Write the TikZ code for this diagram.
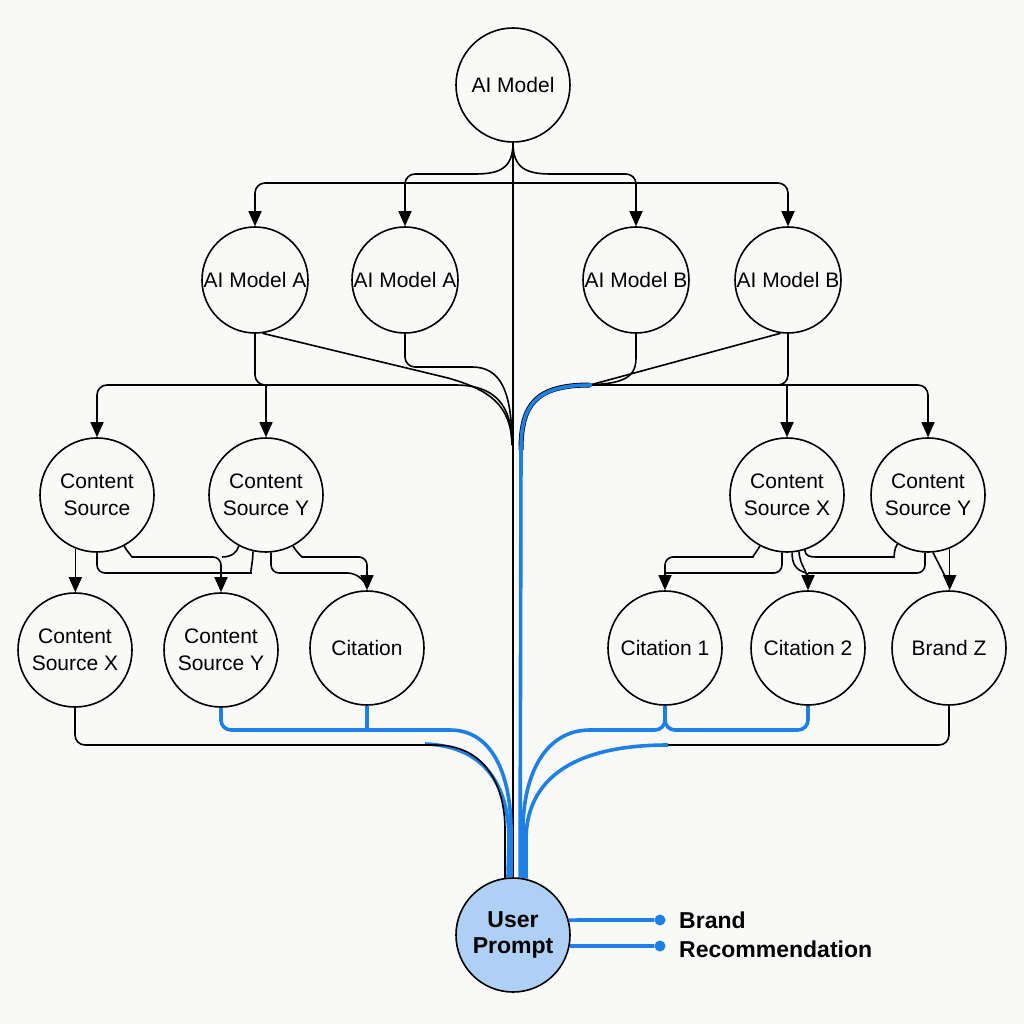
\documentclass[tikz,border=0pt]{standalone}
\usepackage{fontspec}
\setmainfont{Liberation Sans}
\usetikzlibrary{arrows.meta,calc}
\pgfdeclarelayer{bgl}
\pgfdeclarelayer{edges}
\pgfsetlayers{bgl,edges,main}
\definecolor{myblue}{HTML}{1E80E6}
\definecolor{ufill}{HTML}{AED0F4}
\definecolor{paper}{HTML}{F9FAF8}
\begin{document}
\begin{tikzpicture}[x=1pt,y=-1pt,
  circ/.style={circle, draw=black, line width=1.6pt, fill=paper, minimum size=114pt,
    inner sep=0pt, align=center, font=\fontsize{21}{27}\selectfont},
  small/.style={minimum size=106pt},
  ln/.style={line width=1.6pt, draw=black},
  arr/.style={ln, -{Triangle[length=15pt,width=13pt]}},
  bl/.style={line width=3.6pt, draw=myblue},
  dot/.style={circle, fill=myblue, minimum size=11pt, inner sep=0pt},
  lbl/.style={font=\bfseries\fontsize{23}{27}\selectfont, inner sep=0pt}
]
\begin{pgfonlayer}{bgl}
\fill[paper] (0,0) rectangle (1024,1024);
\end{pgfonlayer}

% nodes
\node[circ] (top) at (513,85) {AI Model};
\node[circ,small] (a1) at (255,280) {AI Model A};
\node[circ,small] (a2) at (405,280) {AI Model A};
\node[circ,small] (b1) at (636,280) {AI Model B};
\node[circ,small] (b2) at (788,280) {AI Model B};
\node[circ] (cs1) at (97,495) {Content\\Source};
\node[circ] (cs2) at (266,495) {Content\\Source Y};
\node[circ] (cs3) at (787,495) {Content\\Source X};
\node[circ] (cs4) at (928,495) {Content\\Source Y};
\node[circ] (c31) at (75,650) {Content\\Source X};
\node[circ] (c32) at (221,650) {Content\\Source Y};
\node[circ] (c33) at (367,648) {Citation};
\node[circ] (c34) at (665,648) {Citation 1};
\node[circ] (c35) at (808,648) {Citation 2};
\node[circ] (c36) at (949,648) {Brand Z};
\node[circ, fill=ufill, font=\bfseries\fontsize{23}{26}\selectfont] (user) at (513,935) {User\\Prompt};

\node[dot] (d1) at (660,920) {};
\node[dot] (d2) at (660,946) {};
\node[lbl, anchor=base west] (t1) at (679,928) {Brand};
\node[lbl, anchor=base west] (t2) at (679,957) {Recommendation};

\begin{pgfonlayer}{edges}
% top level
\draw[ln] (top.south) -- (user.north);
\draw[arr, rounded corners=10pt] (top.south) .. controls (513,168) and (500,174) .. (465,174) -- (405,174) -- (a2.north);
\draw[arr, rounded corners=10pt] (top.south) .. controls (513,168) and (526,174) .. (561,174) -- (636,174) -- (b1.north);
\draw[arr, rounded corners=10pt] (513,183) -| (a1.north);
\draw[arr, rounded corners=10pt] (513,183) -| (b2.north);

% level 1 -> level 2, left
\draw[ln, rounded corners=10pt] (a1.south) -- (255,385) -- (445,385) .. controls (495,385) and (512,405) .. (512,445);
\draw[arr, rounded corners=10pt] (300,385) -| (cs1.north);
\draw[arr] (266,385) -- (cs2.north);
\draw[ln] (a1.-82) -- (448,378) .. controls (490,390) and (511,405) .. (512,445);
\draw[ln, rounded corners=10pt] (a2.south) -- (405,367) -- (462,367) .. controls (500,367) and (512,390) .. (512,445);

% level 1 -> level 2, right
\draw[ln] (b1.south) -- (636,358) .. controls (636,380) and (620,385) .. (575,385);
\draw[ln] (b2.-98) -- (590,385);
\draw[ln, rounded corners=10pt] (b2.south) -- (788,385) -- (580,385);
\draw[arr, rounded corners=10pt] (760,385) -| (cs4.north);
\draw[arr] (787,385) -- (cs3.north);
\draw[ln, line width=5pt] (590,385) .. controls (535,385) and (521,405) .. (521,450);
\draw[bl] (592,385) .. controls (535,385) and (521,405) .. (521,450) -- (user.83);

% level 2 -> level 3, left
\draw[arr] (cs1.-112) -- (cs1.-112 |- c31.north);
\draw[ln, rounded corners=8pt] (cs1.south) -- (97,573) -- (243,573) .. controls (250,573) and (253,562) .. (cs2.-103);
\draw[arr, rounded corners=8pt] (cs1.-62) to[out=-60,in=180] (140,557) -- (221,557) -- (c32.north);
\draw[ln] (cs2.-118) .. controls (237,552) and (232,557) .. (222,557);
\draw[arr, rounded corners=8pt] (cs2.-62) to[out=-60,in=180] (310,557) -- (367,557) -- (c33.north);
\draw[ln, rounded corners=8pt] (cs2.-85) -- (271,573) -- (356,573) -- (367,585);

% level 2 -> level 3, right
\draw[arr, rounded corners=8pt] (cs3.-118) to[out=-120,in=0] (745,557) -- (665,557) -- (c34.north);
\draw[ln, rounded corners=8pt] (cs3.-95) |- (665,573);
\draw[arr] (cs3.-85) .. controls (792,575) and (808,570) .. (c35.north);
\draw[ln] (cs3.-78) .. controls (800,568) and (808,568) .. (808,585);
\draw[ln, rounded corners=6pt] (cs3.-72) .. controls (805,556) and (810,557) .. (822,557) -- (888,557) to[out=0,in=-125] (cs4.-122);
\draw[ln, rounded corners=8pt] (cs4.-93) |- (808,573);
\draw[arr] (cs4.-68) -- (cs4.-68 |- c36.north);
\draw[ln] (cs4.-85) -- (948,582);

% level 3 -> user, left
\draw[bl] (425,744) .. controls (488,746) and (509,790) .. (509,840) -- (user.95);
\draw[ln, rounded corners=10pt] (c31.south) -- (75,745) -- (425,745) .. controls (485,745) and (505,785) .. (505,840) -- (user.98);
\draw[bl, rounded corners=10pt] (c32.south) -- (221,730) -- (440,730) .. controls (495,730) and (511,780) .. (511,840) -- (user.92);
\draw[bl] (c33.south) -- (367,730);

% level 3 -> user, right
\draw[bl, rounded corners=10pt] (c34.south) |- (808,730) -- (c35.south);
\draw[bl, rounded corners=10pt] (c34.south) -- (665,730) -- (600,730) .. controls (545,730) and (523,775) .. (523,840) -- (user.80);
\draw[ln, rounded corners=10pt] (c36.south) -- (949,745) -- (660,745);
\draw[bl] (668,745) .. controls (565,745) and (526,785) .. (526,840) -- (user.77);

% outputs
\draw[bl] (user.15) -- (d1);
\draw[bl] (user.-11) -- (d2);
\end{pgfonlayer}
\end{tikzpicture}
\end{document}
